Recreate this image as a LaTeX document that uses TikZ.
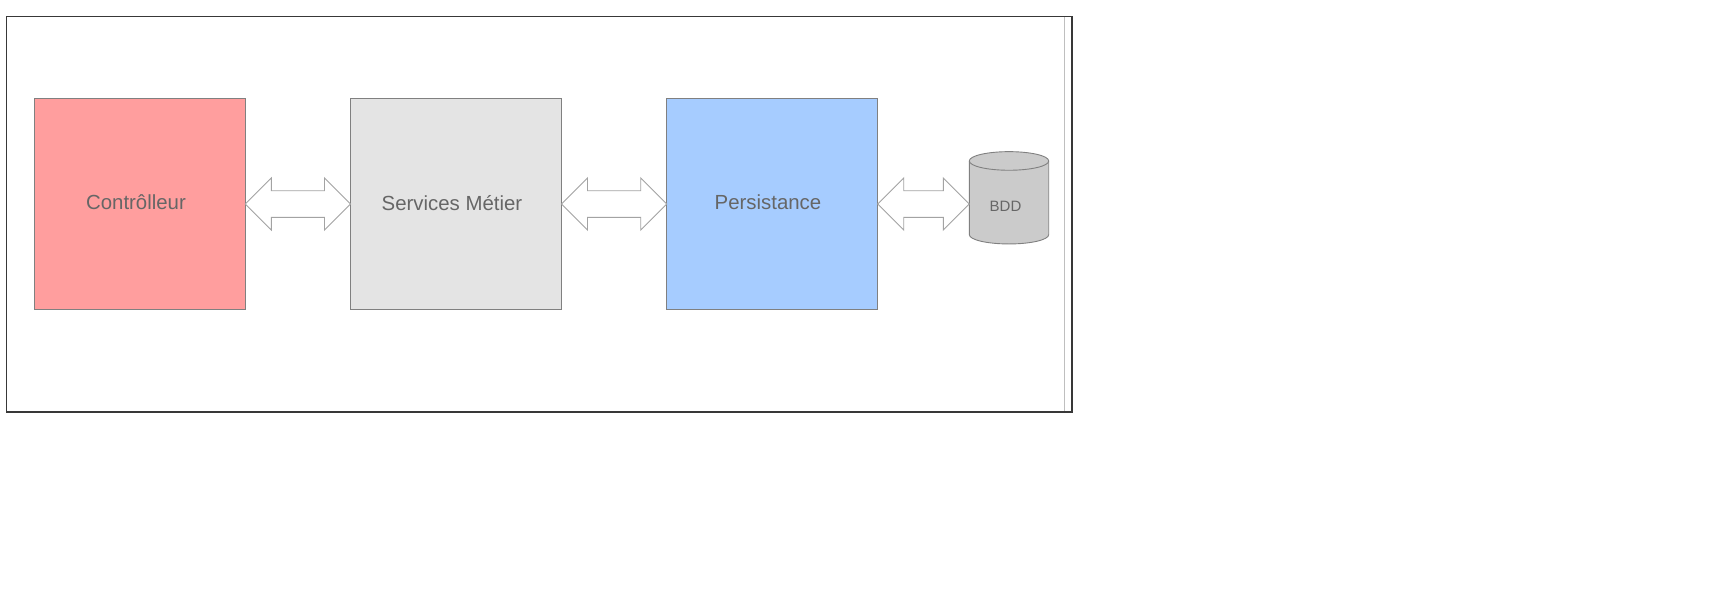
\documentclass[tikz,border=0pt]{standalone}
\usepackage{fontspec}
\setmainfont{Liberation Sans}
\usetikzlibrary{calc}
\definecolor{redfill}{HTML}{FF9E9E}
\definecolor{greyfill}{HTML}{E4E4E4}
\definecolor{bluefill}{HTML}{A6CCFF}
\definecolor{dbfill}{HTML}{CBCBCB}
\definecolor{txt}{HTML}{666666}
\definecolor{edge}{HTML}{808080}
\tikzset{
  layer/.style={draw=edge,line width=0.9pt,minimum width=211pt,minimum height=211pt,inner sep=0,outer sep=0,anchor=north west},
  lbl/.style={text=txt,inner sep=0,font=\fontsize{20.4}{25}\selectfont},
  dblarrow/.style={draw=black!36,fill=white,line width=0.9pt,line join=miter},
  dbshape/.style={draw=edge,fill=dbfill,line width=0.9pt},
}
% block double arrow from one named point to another
\newcommand{\blockarrow}[2]{%
  \draw[dblarrow] let \p1=(#1), \p2=(#2) in
    (\x1,\y1) -- (\x1+26pt,\y1+26pt) -- (\x1+26pt,\y1+13.3pt) -- (\x2-26pt,\y1+13.3pt)
    -- (\x2-26pt,\y1+26pt) -- (\x2,\y1) -- (\x2-26pt,\y1-26pt) -- (\x2-26pt,\y1-13.3pt)
    -- (\x1+26pt,\y1-13.3pt) -- (\x1+26pt,\y1-26pt) -- cycle;}
\begin{document}
\begin{tikzpicture}[x=1pt,y=-1pt]
\useasboundingbox (0,0) rectangle (1736,589);
\fill[white] (0,0) rectangle (1736,589);
\coordinate (fa) at (6.5,16.5);
\coordinate (fb) at (1072,412);
\coordinate (ia) at (1064.7,16.5);
\coordinate (ib) at (1064.7,412);
\draw[black!25,line width=1pt] (ia) -- (ib);
\draw[black!78,line width=1.5pt] (fa) rectangle (fb);
\node[layer,fill=redfill] (ctrl) at (34.3,98.5) {};
\node[layer,fill=greyfill] (svc) at (350.5,98.5) {};
\node[layer,fill=bluefill] (pers) at (666.7,98.5) {};
\node[lbl] (tctrl) at (136,202.6) {Contrôlleur};
\node[lbl] (tsvc) at (452,202.6) {Services Métier};
\node[lbl] (tpers) at (768,202.6) {Persistance};
\node[minimum width=79.4pt,minimum height=92.3pt,inner sep=0,outer sep=0] (db) at (1009,197.8) {};
\draw[dbshape] let \p1=(db.north west), \p2=(db.south east) in
  (\x1,\y1-9.3pt) arc[start angle=180,end angle=0,x radius=39.7pt,y radius=9.3pt]
  -- (\x2,\y2+9.3pt) arc[start angle=0,end angle=-180,x radius=39.7pt,y radius=9.3pt] -- cycle;
\draw[dbshape,fill=none] let \p1=(db.north west) in
  (\x1,\y1-9.3pt) arc[start angle=180,end angle=360,x radius=39.7pt,y radius=9.3pt];
\node[text=txt,inner sep=0,font=\fontsize{15}{18}\selectfont] (tdb) at (1005.5,206) {BDD};
\blockarrow{ctrl.east}{svc.west}
\blockarrow{svc.east}{pers.west}
\blockarrow{pers.east}{db.west}
\end{tikzpicture}
\end{document}
